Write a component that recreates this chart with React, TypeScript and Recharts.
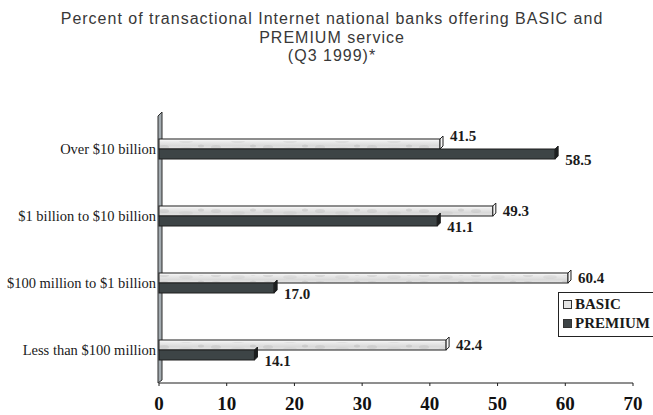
import { BarChart, Bar, XAxis, YAxis, Legend, LabelList, ReferenceArea } from 'recharts';

const categories = ['Over $10 billion', '$1 billion to $10 billion', '$100 million to $1 billion', 'Less than $100 million'];
const basicPct = [41.5, 49.3, 60.4, 42.4];
const premiumPct = [58.5, 41.1, 17.0, 14.1];
const xTicks = [0, 10, 20, 30, 40, 50, 60, 70];

const titleLines = [
    'Percent of transactional Internet national banks offering BASIC and',
    'PREMIUM service',
    '(Q3 1999)*',
];

const data = categories.map((name, i) => ({ name, basic: basicPct[i], premium: premiumPct[i] }));

const SERIF = '"Liberation Serif", "Times New Roman", serif';
const SANS = '"Liberation Sans", Arial, sans-serif';
const DEPTH = 3;

const swatch: Record<string, string> = { basic: '#e4e4e4', premium: '#3d4446' };

// front face + a thin right-hand end cap, like the old 3-D office charts
function make3dBar(capFill: string, mottled: boolean) {
    return (props: any) => {
        const { x, y, width, height, fill } = props;
        if (!width || width <= 0) return <g />;
        const r = x + width;
        return (
            <g>
                <rect x={x} y={y} width={width} height={height} fill={fill} stroke="#1e1e1e" strokeWidth={1} />
                {mottled && (
                    <rect x={x + 1} y={y + 2} width={width - 2} height={height - 3} fill="url(#mottle)" />
                )}
                <polygon
                    points={`${r},${y} ${r + DEPTH},${y - DEPTH} ${r + DEPTH},${y + height - DEPTH} ${r},${y + height}`}
                    fill={capFill}
                    stroke="#1e1e1e"
                    strokeWidth={1}
                />
            </g>
        );
    };
}

// grey side wall standing on the value axis origin
const WallShape = (props: any) => {
    const { x, y, height } = props;
    const l = x - 1;
    const r = x + 3;
    return (
        <polygon
            points={`${l},${y + height} ${l},${y + 1} ${r},${y - 3} ${r},${y + height - 3}`}
            fill="#a3abb0"
            stroke="#2a2a2a"
            strokeWidth={1}
        />
    );
};

// category names on one line, right-aligned against the wall
const CategoryTick = (props: any) => {
    const { x, y, payload } = props;
    return (
        <text x={x} y={y} textAnchor="end" dominantBaseline="central" fontFamily={SERIF} fontSize={14.5} fill="#1a1a1a">
            {payload.value}
        </text>
    );
};

const labelStyle = { fontFamily: SERIF, fontWeight: 700, fontSize: 15, fill: '#1a1a1a' };

const BasicLabel = (props: any) => {
    const { x, y, width, height, value, index } = props;
    // push the label up when the premium bar below runs past it
    const lift = premiumPct[index] > value ? -8 : 0;
    return (
        <text x={x + width + 10} y={y + height / 2 + lift} dominantBaseline="central" {...labelStyle}>
            {Number(value).toFixed(1)}
        </text>
    );
};

const PremiumLabel = (props: any) => {
    const { x, y, width, height, value } = props;
    return (
        <text x={x + width + 10} y={y + height / 2 + 6} dominantBaseline="central" {...labelStyle}>
            {Number(value).toFixed(1)}
        </text>
    );
};

const renderLegend = (props: any) => {
    const { payload = [] } = props;
    return (
        <div
            style={{
                border: '1px solid #222',
                background: '#fff',
                padding: '2px 0 3px 4px',
                fontFamily: SERIF,
                fontWeight: 700,
                fontSize: 15,
                color: '#1a1a1a',
            }}
        >
            {payload.map((entry: any) => (
                <div key={entry.value} style={{ display: 'flex', alignItems: 'center', height: 19, whiteSpace: 'nowrap' }}>
                    <span
                        style={{
                            display: 'inline-block',
                            width: 7,
                            height: 7,
                            border: '1px solid #333',
                            background: swatch[entry.dataKey],
                            marginRight: 3,
                        }}
                    />
                    {entry.value}
                </div>
            ))}
        </div>
    );
};

export default function App() {
    return (
        <div style={{ position: 'absolute', left: 0, top: 0, width: 653, height: 415, background: '#fff', overflow: 'hidden' }}>
            <div
                style={{
                    position: 'absolute',
                    left: 0,
                    top: 10,
                    width: 664,
                    textAlign: 'center',
                    fontFamily: SANS,
                    fontSize: 16,
                    letterSpacing: '1px',
                    lineHeight: '18.5px',
                    color: '#383838',
                }}
            >
                {titleLines.map((t) => (
                    <div key={t}>{t}</div>
                ))}
            </div>
            <BarChart
                width={653}
                height={415}
                data={data}
                layout="vertical"
                margin={{ top: 115, right: 20, bottom: 0, left: 0 }}
                barSize={10}
                barGap={0}
            >
                <defs>
                    <linearGradient id="basicFill" x1="0" y1="0" x2="0" y2="1">
                        <stop offset="0%" stopColor="#ffffff" />
                        <stop offset="25%" stopColor="#ebebeb" />
                        <stop offset="65%" stopColor="#dadada" />
                        <stop offset="100%" stopColor="#e4e4e4" />
                    </linearGradient>
                    <pattern id="mottle" width="52" height="8" patternUnits="userSpaceOnUse">
                        <ellipse cx="8" cy="3" rx="5" ry="2" fill="#b8b8b8" opacity="0.35" />
                        <ellipse cx="30" cy="5" rx="7" ry="2" fill="#c4c4c4" opacity="0.3" />
                        <ellipse cx="45" cy="2" rx="3" ry="1.5" fill="#a8a8a8" opacity="0.3" />
                    </pattern>
                </defs>
                <XAxis
                    type="number"
                    domain={[0, 70]}
                    ticks={xTicks}
                    height={32}
                    axisLine={{ stroke: '#1e1e1e' }}
                    tickLine={{ stroke: '#1e1e1e' }}
                    tickSize={3}
                    tickMargin={11}
                    tick={{ fontFamily: SERIF, fontWeight: 700, fontSize: 19, fill: '#111' }}
                />
                <YAxis
                    type="category"
                    dataKey="name"
                    width={159}
                    axisLine={false}
                    tickLine={false}
                    tickSize={0}
                    tickMargin={3}
                    tick={CategoryTick}
                />
                <ReferenceArea x1={0} x2={0.5} shape={WallShape} />
                <Legend
                    layout="horizontal"
                    align="center"
                    verticalAlign="middle"
                    content={renderLegend}
                    wrapperStyle={{ left: 558, top: 292, width: 110 }}
                />
                <Bar dataKey="basic" name="BASIC" fill="url(#basicFill)" shape={make3dBar('#f6f6f6', true)} isAnimationActive={false}>
                    <LabelList dataKey="basic" content={BasicLabel} />
                </Bar>
                <Bar dataKey="premium" name="PREMIUM" fill="#3d4446" shape={make3dBar('#1b1e1f', false)} isAnimationActive={false}>
                    <LabelList dataKey="premium" content={PremiumLabel} />
                </Bar>
            </BarChart>
        </div>
    );
}
